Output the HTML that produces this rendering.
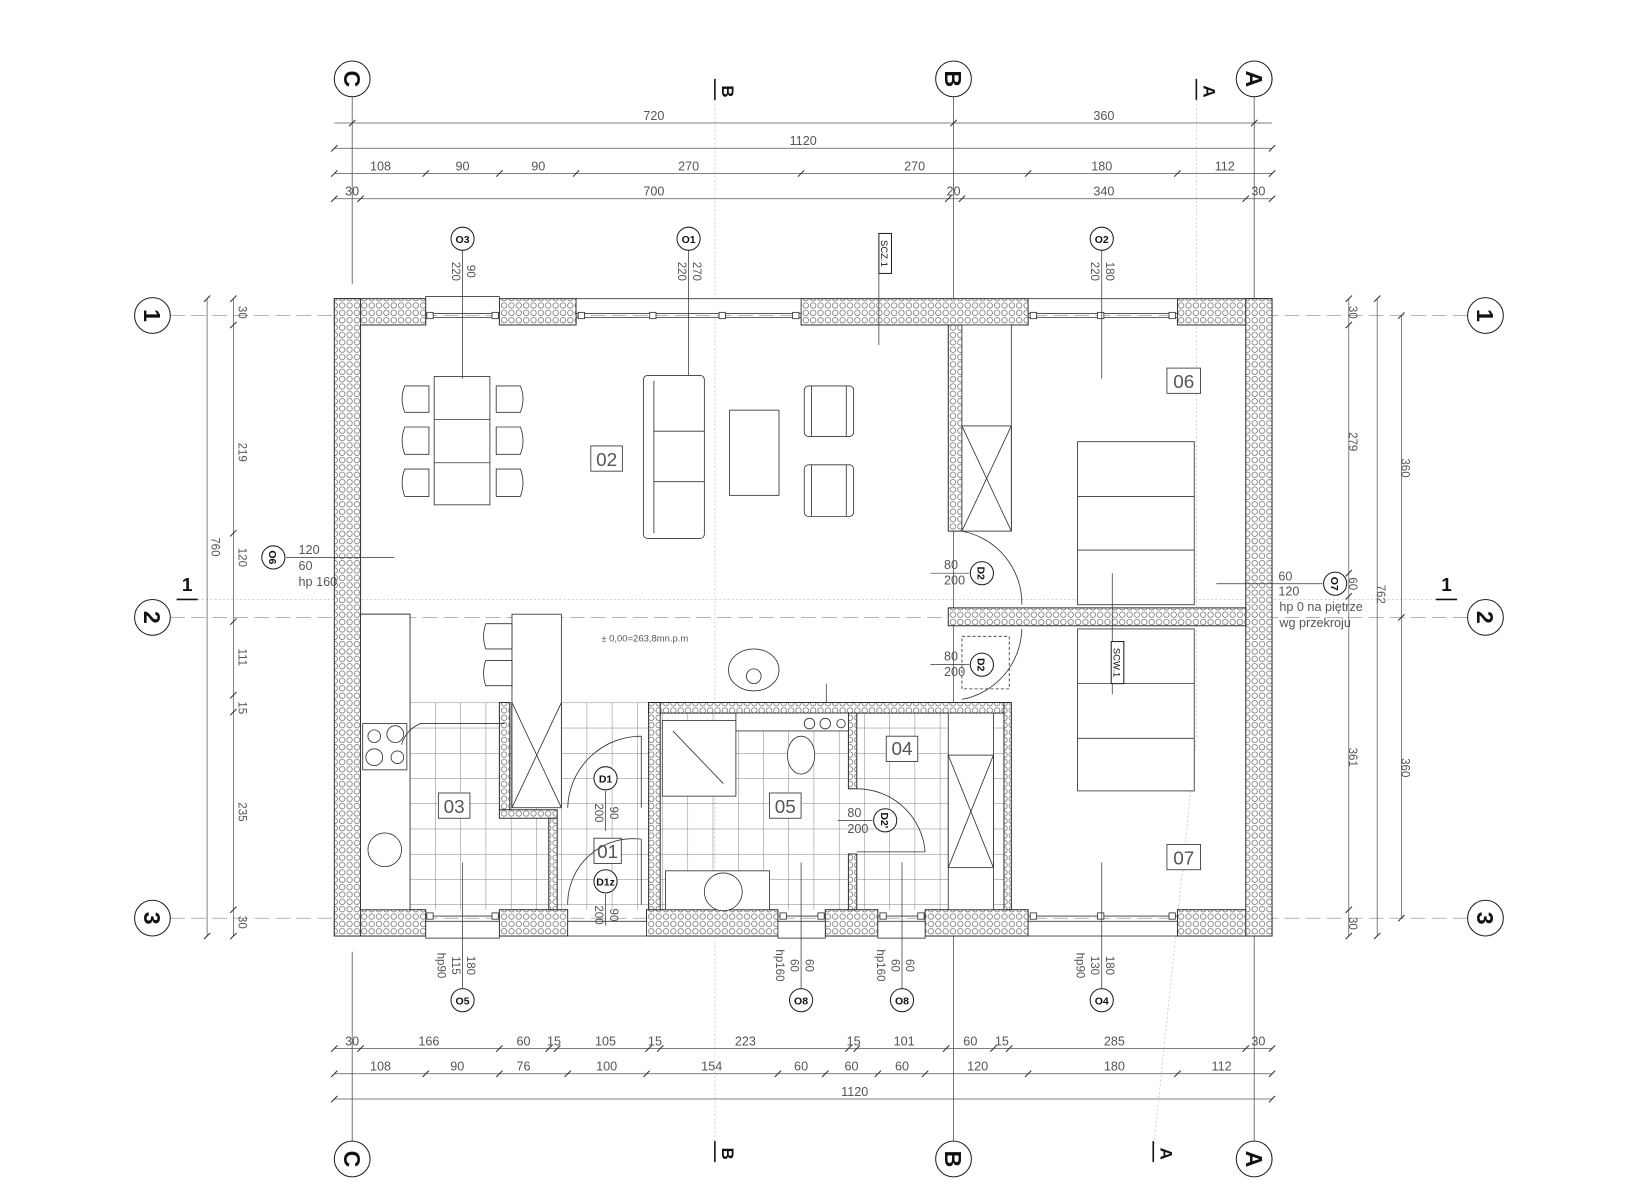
<!DOCTYPE html>
<html><head><meta charset="utf-8"><style>
html,body{margin:0;padding:0;background:#fff;}
svg{display:block}
text{font-family:"Liberation Sans",sans-serif;fill:#555;}
.b{fill:#111;font-weight:bold;}
</style></head><body>
<svg width="1640" height="1200" viewBox="0 0 1560 1141" preserveAspectRatio="none" xmlns="http://www.w3.org/2000/svg">
<defs>
<pattern id="ins" width="7" height="7" patternUnits="userSpaceOnUse">
<rect width="7" height="7" fill="#fff"/><circle cx="3.5" cy="3.5" r="2.6" fill="none" stroke="#555" stroke-width="0.6"/></pattern>
<pattern id="tile" width="24" height="24" patternUnits="userSpaceOnUse" x="390" y="668">
<path d="M0 0H24M0 0V24" stroke="#555" stroke-width="0.7" fill="none"/></pattern>
</defs>
<g stroke="#222" fill="none" stroke-width="0.8">
<g stroke="#444" stroke-width="0.7">
<line x1="335" y1="92" x2="335" y2="270"/><line x1="335" y1="905" x2="335" y2="1085"/>
<line x1="907" y1="92" x2="907" y2="1085"/>
<line x1="1193" y1="92" x2="1193" y2="1085"/>
</g>
<g stroke="#888" stroke-width="0.6" stroke-dasharray="14 6">
<line x1="162" y1="300" x2="1396" y2="300"/>
<line x1="162" y1="587" x2="1396" y2="587"/>
<line x1="162" y1="873" x2="1396" y2="873"/>
</g>
<g stroke="#bbb" stroke-width="0.6" stroke-dasharray="2 2">
<line x1="680" y1="95" x2="680" y2="1095"/>
<line x1="1138" y1="95" x2="1138" y2="700"/><line x1="1138" y1="700" x2="1097" y2="1095"/>
<line x1="180" y1="570" x2="1380" y2="570"/>
</g>
<g fill="#fff" stroke="#222" stroke-width="1">
<circle cx="335" cy="75" r="17"/><circle cx="907" cy="75" r="17"/><circle cx="1193" cy="75" r="17"/>
<circle cx="335" cy="1102" r="17"/><circle cx="907" cy="1102" r="17"/><circle cx="1193" cy="1102" r="17"/>
<circle cx="145" cy="300" r="17"/><circle cx="145" cy="587" r="17"/><circle cx="145" cy="873" r="17"/>
<circle cx="1413" cy="300" r="17"/><circle cx="1413" cy="587" r="17"/><circle cx="1413" cy="873" r="17"/>
</g>
<g stroke="#555" stroke-width="0.7">
<line x1="318" y1="117" x2="1210" y2="117"/><line x1="318" y1="141" x2="1210" y2="141"/>
<line x1="318" y1="165" x2="1210" y2="165"/><line x1="318" y1="189" x2="1210" y2="189"/>
<line x1="318" y1="997" x2="1210" y2="997"/><line x1="318" y1="1021" x2="1210" y2="1021"/><line x1="318" y1="1045" x2="1210" y2="1045"/>
<line x1="197" y1="284" x2="197" y2="890"/><line x1="222" y1="284" x2="222" y2="890"/>
<line x1="1283" y1="284" x2="1283" y2="890"/><line x1="1310" y1="284" x2="1310" y2="890"/><line x1="1333" y1="300" x2="1333" y2="873"/>
</g>
<g stroke="#333" stroke-width="1">
<path d="M332 120l6-6M904 120l6-6M1190 120l6-6M315 144l6-6M1207 144l6-6
M315 168l6-6M402 168l6-6M472 168l6-6M545 168l6-6M759 168l6-6M975 168l6-6M1117 168l6-6M1207 168l6-6
M315 192l6-6M340 192l6-6M899 192l6-6M912 192l6-6M1182 192l6-6M1207 192l6-6
M315 1000l6-6M340 1000l6-6M472 1000l6-6M519 1000l6-6M527 1000l6-6M614 1000l6-6M625 1000l6-6M804 1000l6-6M812 1000l6-6M897 1000l6-6M942 1000l6-6M957 1000l6-6M1182 1000l6-6M1207 1000l6-6
M315 1024l6-6M402 1024l6-6M472 1024l6-6M537 1024l6-6M612 1024l6-6M737 1024l6-6M782 1024l6-6M832 1024l6-6M877 1024l6-6M975 1024l6-6M1117 1024l6-6M1207 1024l6-6
M315 1048l6-6M1207 1048l6-6
M194 287l6-6M194 893l6-6M219 287l6-6M219 312l6-6M219 664l6-6M219 594l6-6M219 680l6-6M219 868l6-6M219 893l6-6M219 510l6-6
M1280 287l6-6M1280 312l6-6M1280 548l6-6M1280 570l6-6M1280 868l6-6M1280 893l6-6M1307 287l6-6M1307 893l6-6M1330 303l6-6M1330 590l6-6M1330 876l6-6"/>
</g>
<g stroke="#111" stroke-width="1.5">
<line x1="680" y1="75" x2="680" y2="95"/><line x1="1138" y1="75" x2="1138" y2="95"/>
<line x1="680" y1="1085" x2="680" y2="1105"/><line x1="1097" y1="1085" x2="1097" y2="1105"/>
<line x1="168" y1="570" x2="188" y2="570"/><line x1="1366" y1="570" x2="1386" y2="570"/>
</g>
<rect x="390" y="668" width="565" height="197" fill="url(#tile)" stroke="none"/>
<rect x="343" y="584" width="47" height="281" fill="#fff"/>
<g fill="url(#ins)" stroke="#222" stroke-width="0.9">
<rect x="318" y="284" width="87" height="25"/><rect x="475" y="284" width="73" height="25"/>
<rect x="762" y="284" width="216" height="25"/><rect x="1120" y="284" width="90" height="25"/>
<rect x="318" y="865" width="87" height="25"/><rect x="475" y="865" width="65" height="25"/>
<rect x="615" y="865" width="125" height="25"/><rect x="785" y="865" width="50" height="25"/>
<rect x="880" y="865" width="98" height="25"/><rect x="1120" y="865" width="90" height="25"/>
<rect x="318" y="284" width="25" height="606"/><rect x="1185" y="284" width="25" height="606"/>
<rect x="902" y="309" width="13" height="196"/><rect x="902" y="578" width="283" height="17"/>
<rect x="617" y="668" width="343" height="10"/><rect x="617" y="668" width="11" height="197"/>
<rect x="807" y="678" width="8" height="72"/><rect x="807" y="812" width="8" height="53"/>
<rect x="955" y="668" width="7" height="197"/><rect x="475" y="668" width="10" height="102"/>
<rect x="475" y="770" width="55" height="8"/><rect x="522" y="778" width="8" height="87"/>
</g>
<g stroke="#333" stroke-width="0.8" fill="#fff">
<rect x="405" y="282" width="70" height="16"/><rect x="548" y="284" width="214" height="14"/><rect x="978" y="284" width="142" height="14"/>
<rect x="405" y="876" width="70" height="16"/><rect x="540" y="876" width="75" height="14"/><rect x="740" y="876" width="45" height="16"/><rect x="835" y="876" width="45" height="16"/><rect x="978" y="876" width="142" height="14"/>
<path d="M405 302H475M548 302H762M978 302H1120M405 871H475M740 871H785M835 871H880M978 871H1120" fill="none"/>
<rect x="406" y="297" width="6" height="6"/><rect x="468" y="297" width="6" height="6"/><rect x="550" y="297" width="6" height="6"/><rect x="618" y="297" width="6" height="6"/><rect x="684" y="297" width="6" height="6"/><rect x="754" y="297" width="6" height="6"/><rect x="980" y="297" width="6" height="6"/><rect x="1044" y="297" width="6" height="6"/><rect x="1112" y="297" width="6" height="6"/>
<rect x="406" y="868" width="6" height="6"/><rect x="468" y="868" width="6" height="6"/><rect x="742" y="868" width="6" height="6"/><rect x="778" y="868" width="6" height="6"/><rect x="837" y="868" width="6" height="6"/><rect x="873" y="868" width="6" height="6"/><rect x="980" y="868" width="6" height="6"/><rect x="1044" y="868" width="6" height="6"/><rect x="1112" y="868" width="6" height="6"/>
</g>
<g stroke="#333" stroke-width="0.8" fill="#fff">
<rect x="413" y="358" width="53" height="122"/><path d="M413 399H466M413 440H466"/>
<path d="M408 367H385q-5 12 0 25H408zM408 406H385q-5 13 0 26H408zM408 446H385q-5 13 0 26H408z"/>
<path d="M472 367H495q5 12 0 25H472zM472 406H495q5 13 0 26H472zM472 446H495q5 13 0 26H472z"/>
<rect x="612" y="357" width="58" height="155" rx="4"/><path d="M622 362V507M622 410H670M622 458H670"/>
<rect x="694" y="390" width="47" height="81"/>
<rect x="765" y="367" width="47" height="48" rx="4"/><path d="M772 367V415M805 367V415"/>
<rect x="765" y="442" width="47" height="49" rx="4"/><path d="M772 442V491M805 442V491"/>
<rect x="562" y="424" width="30" height="24"/>
<rect x="1110" y="350" width="32" height="24"/><rect x="1110" y="803" width="32" height="24"/>
<rect x="1025" y="420" width="111" height="155"/><path d="M1025 472H1136M1025 523H1136"/>
<rect x="1025" y="598" width="111" height="154"/><path d="M1025 650H1136M1025 702H1136"/>
<rect x="915" y="309" width="47" height="196"/><rect x="915" y="405" width="47" height="100"/><path d="M915 405L962 505M962 405L915 505"/>
<rect x="902" y="678" width="43" height="187"/><rect x="902" y="718" width="43" height="107"/><path d="M902 718L945 825M945 718L902 825"/>
<rect x="343" y="584" width="47" height="281"/><rect x="345" y="688" width="42" height="44"/>
<circle cx="356" cy="700" r="6"/><circle cx="376" cy="698" r="8"/><circle cx="356" cy="720" r="8"/><circle cx="378" cy="720" r="6"/>
<circle cx="366" cy="808" r="16"/>
<rect x="487" y="584" width="47" height="184"/><path d="M487 668L534 768M534 668L487 768"/>
<path d="M487 593H462q-4 12 0 24H487zM487 628H462q-4 12 0 24H487z"/>
<ellipse cx="717" cy="637" rx="24" ry="20"/><circle cx="717" cy="643" r="7"/>
<rect x="630" y="685" width="70" height="72"/><path d="M640 695L688 745"/>
<rect x="700" y="678" width="107" height="17"/>
<circle cx="770" cy="688" r="5"/><circle cx="785" cy="688" r="5"/><circle cx="800" cy="688" r="4"/>
<ellipse cx="762" cy="718" rx="13" ry="18"/>
<rect x="633" y="828" width="99" height="37"/><circle cx="688" cy="848" r="18"/>
<rect x="417" y="754" width="30" height="24"/><rect x="732" y="754" width="30" height="24"/><rect x="843" y="700" width="30" height="24"/><rect x="565" y="797" width="26" height="24"/>
</g>
<g stroke="#333" stroke-width="0.8" fill="none">
<path d="M915 505A70 70 0 0 1 972 575"/><path d="M915 665A70 70 0 0 0 972 598"/>
<rect x="915" y="605" width="45" height="50" stroke-dasharray="3 2"/>
<path d="M610 700V768M540 768A70 70 0 0 1 610 700"/>
<path d="M610 798V860M540 860A62 62 0 0 1 610 798"/>
<path d="M815 750A65 65 0 0 1 880 810M815 810H880"/>
<path d="M382 708A30 30 0 0 1 400 688H480"/>
</g>
<g stroke="#333" stroke-width="0.7">
<line x1="440" y1="238" x2="440" y2="360"/><line x1="655" y1="238" x2="655" y2="357"/><line x1="1048" y1="238" x2="1048" y2="360"/>
<line x1="836" y1="260" x2="836" y2="328"/>
<line x1="440" y1="820" x2="440" y2="940"/><line x1="762" y1="820" x2="762" y2="940"/><line x1="858" y1="820" x2="858" y2="940"/><line x1="1048" y1="820" x2="1048" y2="940"/>
<line x1="272" y1="530" x2="375" y2="530"/><line x1="1157" y1="555" x2="1258" y2="555"/>
<line x1="1058" y1="545" x2="1058" y2="660"/>
<line x1="885" y1="545" x2="922" y2="545"/><line x1="885" y1="632" x2="922" y2="632"/>
<line x1="797" y1="780" x2="830" y2="780"/>
<line x1="576" y1="752" x2="576" y2="790"/><line x1="576" y1="850" x2="576" y2="880"/>
<line x1="786" y1="650" x2="786" y2="668"/>
</g>
<g fill="#fff" stroke="#222" stroke-width="1">
<circle cx="440" cy="227" r="11"/><circle cx="655" cy="227" r="11"/><circle cx="1048" cy="227" r="11"/>
<circle cx="440" cy="951" r="11"/><circle cx="762" cy="951" r="11"/><circle cx="858" cy="951" r="11"/><circle cx="1048" cy="951" r="11"/>
<circle cx="260" cy="530" r="11"/><circle cx="1270" cy="555" r="11"/>
<circle cx="934" cy="545" r="11"/><circle cx="934" cy="632" r="11"/><circle cx="576" cy="740" r="11"/><circle cx="576" cy="838" r="11"/><circle cx="842" cy="780" r="11"/>
<rect x="836" y="222" width="12" height="38"/><rect x="1057" y="610" width="12" height="40"/>
</g>
</g>
<g class="b" font-size="22" text-anchor="middle">
<text class="b" x="335" y="83" transform="rotate(90 335 75)">C</text>
<text class="b" x="907" y="83" transform="rotate(90 907 75)">B</text>
<text class="b" x="1193" y="83" transform="rotate(90 1193 75)">A</text>
<text class="b" x="335" y="1110" transform="rotate(90 335 1102)">C</text>
<text class="b" x="907" y="1110" transform="rotate(90 907 1102)">B</text>
<text class="b" x="1193" y="1110" transform="rotate(90 1193 1102)">A</text>
<text class="b" x="145" y="308" transform="rotate(90 145 300)">1</text>
<text class="b" x="145" y="595" transform="rotate(90 145 587)">2</text>
<text class="b" x="145" y="881" transform="rotate(90 145 873)">3</text>
<text class="b" x="1413" y="308" transform="rotate(90 1413 300)">1</text>
<text class="b" x="1413" y="595" transform="rotate(90 1413 587)">2</text>
<text class="b" x="1413" y="881" transform="rotate(90 1413 873)">3</text>
</g>
<g class="b" font-size="16" text-anchor="middle">
<text class="b" x="692" y="92" transform="rotate(90 692 87)">B</text>
<text class="b" x="1150" y="92" transform="rotate(90 1150 87)">A</text>
<text class="b" x="692" y="1102" transform="rotate(90 692 1097)">B</text>
<text class="b" x="1109" y="1102" transform="rotate(90 1109 1097)">A</text>
<text class="b" x="178" y="562" font-size="18">1</text><text class="b" x="1376" y="562" font-size="18">1</text>
</g>
<g font-size="12" text-anchor="middle">
<text x="622" y="114">720</text><text x="1050" y="114">360</text><text x="764" y="138">1120</text>
<text x="362" y="162">108</text><text x="440" y="162">90</text><text x="512" y="162">90</text><text x="655" y="162">270</text><text x="870" y="162">270</text><text x="1048" y="162">180</text><text x="1165" y="162">112</text>
<text x="335" y="186">30</text><text x="622" y="186">700</text><text x="907" y="186">20</text><text x="1050" y="186">340</text><text x="1197" y="186">30</text>
<text x="335" y="994">30</text><text x="408" y="994">166</text><text x="498" y="994">60</text><text x="527" y="994">15</text><text x="576" y="994">105</text><text x="623" y="994">15</text><text x="709" y="994">223</text><text x="812" y="994">15</text><text x="860" y="994">101</text><text x="923" y="994">60</text><text x="953" y="994">15</text><text x="1060" y="994">285</text><text x="1197" y="994">30</text>
<text x="362" y="1018">108</text><text x="435" y="1018">90</text><text x="498" y="1018">76</text><text x="577" y="1018">100</text><text x="677" y="1018">154</text><text x="762" y="1018">60</text><text x="810" y="1018">60</text><text x="858" y="1018">60</text><text x="930" y="1018">120</text><text x="1060" y="1018">180</text><text x="1162" y="1018">112</text>
<text x="813" y="1042">1120</text>
</g>
<g font-size="11" text-anchor="middle">
<text x="231" y="301" transform="rotate(90 231 297)">30</text>
<text x="231" y="434" transform="rotate(90 231 430)">219</text>
<text x="231" y="534" transform="rotate(90 231 530)">120</text>
<text x="231" y="629" transform="rotate(90 231 625)">111</text>
<text x="231" y="677" transform="rotate(90 231 673)">15</text>
<text x="231" y="776" transform="rotate(90 231 772)">235</text>
<text x="231" y="881" transform="rotate(90 231 877)">30</text>
<text x="205" y="524" transform="rotate(90 205 520)">760</text>
<text x="1287" y="301" transform="rotate(90 1287 297)">30</text>
<text x="1287" y="424" transform="rotate(90 1287 420)">279</text>
<text x="1287" y="559" transform="rotate(90 1287 555)">60</text>
<text x="1287" y="724" transform="rotate(90 1287 720)">361</text>
<text x="1287" y="882" transform="rotate(90 1287 878)">30</text>
<text x="1314" y="569" transform="rotate(90 1314 565)">762</text>
<text x="1337" y="449" transform="rotate(90 1337 445)">360</text>
<text x="1337" y="734" transform="rotate(90 1337 730)">360</text>
<text x="434" y="262" transform="rotate(90 434 258)">220</text><text x="448" y="262" transform="rotate(90 448 258)">90</text>
<text x="649" y="262" transform="rotate(90 649 258)">220</text><text x="663" y="262" transform="rotate(90 663 258)">270</text>
<text x="1042" y="262" transform="rotate(90 1042 258)">220</text><text x="1056" y="262" transform="rotate(90 1056 258)">180</text>
<text x="420" y="922" transform="rotate(90 420 918)">hp90</text><text x="434" y="922" transform="rotate(90 434 918)">115</text><text x="448" y="922" transform="rotate(90 448 918)">180</text>
<text x="742" y="922" transform="rotate(90 742 918)">hp160</text><text x="756" y="922" transform="rotate(90 756 918)">60</text><text x="770" y="922" transform="rotate(90 770 918)">60</text>
<text x="838" y="922" transform="rotate(90 838 918)">hp160</text><text x="852" y="922" transform="rotate(90 852 918)">60</text><text x="866" y="922" transform="rotate(90 866 918)">60</text>
<text x="1028" y="922" transform="rotate(90 1028 918)">hp90</text><text x="1042" y="922" transform="rotate(90 1042 918)">130</text><text x="1056" y="922" transform="rotate(90 1056 918)">180</text>
<text x="570" y="777" transform="rotate(90 570 773)">200</text><text x="584" y="777" transform="rotate(90 584 773)">90</text>
<text x="570" y="874" transform="rotate(90 570 870)">200</text><text x="584" y="874" transform="rotate(90 584 870)">90</text>
</g>
<g font-size="12">
<text x="284" y="527">120</text><text x="284" y="542">60</text><text x="284" y="557">hp 160</text>
<text x="1216" y="552">60</text><text x="1216" y="566">120</text><text x="1217" y="581">hp 0  na  piętrze</text><text x="1217" y="596">wg  przekroju</text>
<text x="898" y="541">80</text><text x="898" y="556">200</text><text x="898" y="628">80</text><text x="898" y="643">200</text>
<text x="806" y="777">80</text><text x="806" y="792">200</text>
<text x="572" y="610" font-size="9">±  0,00=263,8mn.p.m</text>
</g>
<g font-size="18" text-anchor="middle" style="fill:#777">
<text x="577" y="443">02</text><text x="1126" y="369">06</text><text x="1126" y="822">07</text>
<text x="432" y="773">03</text><text x="747" y="773">05</text><text x="858" y="718">04</text><text x="578" y="816">01</text>
</g>
<g font-size="10" text-anchor="middle">
<text class="b" x="440" y="231">O3</text><text class="b" x="655" y="231">O1</text><text class="b" x="1048" y="231">O2</text>
<text class="b" x="440" y="955">O5</text><text class="b" x="762" y="955">O8</text><text class="b" x="858" y="955">O8</text><text class="b" x="1048" y="955">O4</text>
<text class="b" x="576" y="744">D1</text><text class="b" x="576" y="842">D1z</text>
<text class="b" x="260" y="534" transform="rotate(90 260 530)">O6</text>
<text class="b" x="1270" y="559" transform="rotate(90 1270 555)">O7</text>
<text class="b" x="934" y="549" transform="rotate(90 934 545)">D2</text>
<text class="b" x="934" y="636" transform="rotate(90 934 632)">D2</text>
<text class="b" x="842" y="784" transform="rotate(90 842 780)">D2'</text>
<text x="842" y="245" transform="rotate(90 842 241)" font-size="9" style="fill:#111">SCZ.1</text>
<text x="1063" y="634" transform="rotate(90 1063 630)" font-size="9" style="fill:#111">SCW.1</text>
</g>
</svg>
</body></html>
